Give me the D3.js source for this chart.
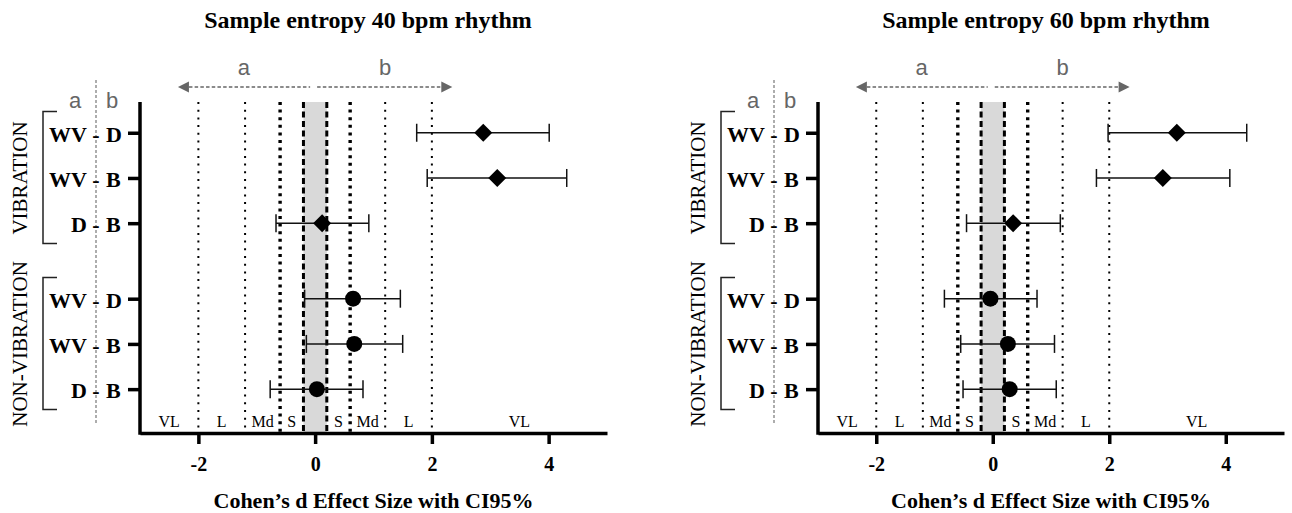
<!DOCTYPE html>
<html><head><meta charset="utf-8">
<script src="https://cdn.jsdelivr.net/npm/d3@7"></script>
<style>body{margin:0;background:#fff}svg{display:block}</style>
</head><body>
<svg id="chart" width="1292" height="513"></svg>
<script>
// ---------- data ----------
const groups = ["VIBRATION", "NON-VIBRATION"];
const groupOf = [0, 0, 0, 1, 1, 1];
const labelA = ["WV", "WV", "D", "WV", "WV", "D"];
const labelB = ["D", "B", "B", "D", "B", "B"];
const titles = ["Sample entropy 40 bpm rhythm", "Sample entropy 60 bpm rhythm"];
const est40 = [2.88, 3.12, 0.12, 0.65, 0.67, 0.03];
const lo40  = [1.74, 1.92, -0.67, -0.18, -0.15, -0.77];
const hi40  = [4.01, 4.31, 0.92, 1.46, 1.50, 0.82];
const est60 = [3.16, 2.92, 0.35, -0.04, 0.26, 0.29];
const lo60  = [1.98, 1.78, -0.45, -0.83, -0.55, -0.51];
const hi60  = [4.36, 4.07, 1.16, 0.76, 1.06, 1.09];
const xTicks = [-2, 0, 2, 4];
const xDomain = [-3, 5];
const thresholds = [-2, -1.2, -0.6, -0.2, 0.2, 0.6, 1.2, 2];
const zoneLabels = ["VL", "L", "Md", "S", null, "S", "Md", "L", "VL"];
const axisTitle = "Cohen\u2019s d Effect Size with CI95%";
const dirLabels = ["a", "b"];

// ---------- layout ----------
const SERIF = "'Liberation Serif','Times New Roman',serif";
const SANS = "'Liberation Sans',Arial,sans-serif";
const GRAY = "#666";
const panels = [
  {left: 140, right: 607, est: est40, lo: lo40, hi: hi40, title: titles[0]},
  {left: 818, right: 1284, est: est60, lo: lo60, hi: hi60, title: titles[1]}
];
const yTop = 102, yBot = 433;
const GAP = 0.67;
const rowPos = i => i + groupOf[i] * GAP;
const y = d3.scaleLinear().domain([-0.68, 6.64]).range([yTop, yBot]);

const svg = d3.select("#chart");

panels.forEach(p => {
  const L = p.left, R = p.right;
  const x = d3.scaleLinear().domain(xDomain).range([L, R]);
  const g = svg.append("g");

  // shaded band
  g.append("rect")
    .attr("x", x(-0.2)).attr("width", x(0.2) - x(-0.2))
    .attr("y", yTop).attr("height", yBot - yTop)
    .attr("fill", "#d9d9d9");

  // reference lines
  thresholds.forEach(t => {
    const a = Math.abs(t);
    let sw, da, cap = "butt";
    if (a === 0.2) { sw = 3; da = "6,3.5"; }
    else if (a === 0.6) { sw = 3.4; da = "3,4.6"; }
    else { sw = 2; da = "2,5.7"; }
    g.append("line")
      .attr("x1", x(t)).attr("x2", x(t))
      .attr("y1", yTop).attr("y2", yBot)
      .attr("stroke", "#000").attr("stroke-width", sw)
      .attr("stroke-dasharray", da).attr("stroke-linecap", cap);
  });

  // zone labels
  const bounds = [xDomain[0], ...thresholds, xDomain[1]];
  zoneLabels.forEach((lab, i) => {
    if (!lab) return;
    g.append("text")
      .attr("x", x((bounds[i] + bounds[i + 1]) / 2)).attr("y", 427)
      .attr("text-anchor", "middle")
      .style("font-family", SERIF).style("font-size", "16px")
      .text(lab);
  });

  // error bars
  const rows = d3.range(labelA.length);
  rows.forEach(i => {
    const yy = y(rowPos(i));
    g.append("line").attr("x1", x(p.lo[i])).attr("x2", x(p.hi[i]))
      .attr("y1", yy).attr("y2", yy).attr("stroke", "#111").attr("stroke-width", 1.5);
    [p.lo[i], p.hi[i]].forEach(v => {
      g.append("line").attr("x1", x(v)).attr("x2", x(v))
        .attr("y1", yy - 9).attr("y2", yy + 9)
        .attr("stroke", "#111").attr("stroke-width", 1.5);
    });
  });

  // markers
  rows.forEach(i => {
    const yy = y(rowPos(i));
    const isDiamond = groupOf[i] === 0;
    const sym = isDiamond ? d3.symbol(d3.symbolSquare, 162) : d3.symbol(d3.symbolCircle, 201);
    g.append("path")
      .attr("d", sym())
      .attr("transform", `translate(${x(p.est[i])},${yy})` + (isDiamond ? " rotate(45)" : ""))
      .attr("fill", "#000");
  });

  // axes
  const yAxis = d3.axisLeft(y).tickValues(rows.map(rowPos)).tickSize(12).tickSizeOuter(0).tickFormat("");
  const ya = g.append("g").attr("transform", `translate(${L},0)`).call(yAxis);
  ya.select(".domain").attr("stroke-width", 3.5).attr("d", `M0,${yBot + 1.75}V${yTop}`);
  ya.selectAll(".tick line").attr("stroke-width", 3.5);

  const xAxis = d3.axisBottom(x).tickValues(xTicks).tickSize(11).tickSizeOuter(0)
    .tickPadding(13).tickFormat(d => (d < 0 ? "-" + Math.abs(d) : String(d)));
  const xa = g.append("g").attr("transform", `translate(0,${yBot})`).call(xAxis);
  xa.select(".domain").attr("stroke-width", 3.5);
  xa.selectAll(".tick line").attr("stroke-width", 3.5);
  xa.selectAll(".tick text").style("font-family", SERIF).style("font-size", "20px")
    .style("font-weight", "bold").attr("fill", "#000");

  // x-axis title
  g.append("text").attr("x", (L + R) / 2).attr("y", 508).attr("text-anchor", "middle")
    .style("font-family", SERIF).style("font-size", "22px").style("font-weight", "bold")
    .text(axisTitle);

  // title
  g.append("text").attr("x", L + 228).attr("y", 28).attr("text-anchor", "middle")
    .style("font-family", SERIF).style("font-size", "24px").style("font-weight", "bold")
    .text(p.title);

  // top direction arrow
  const ay = 87, tipL = x(-2.35), tipR = x(2.35), ah = 11;
  g.append("line").attr("x1", tipL + ah).attr("x2", x(0) - 5).attr("y1", ay).attr("y2", ay)
    .attr("stroke", GRAY).attr("stroke-width", 1.6).attr("stroke-dasharray", "3.5,2.2");
  g.append("line").attr("x1", x(0) + 2).attr("x2", tipR - ah).attr("y1", ay).attr("y2", ay)
    .attr("stroke", GRAY).attr("stroke-width", 1.6).attr("stroke-dasharray", "3.5,2.2");
  g.append("path").attr("d", `M${tipL},${ay}L${tipL + ah},${ay - 5.5}L${tipL + ah},${ay + 5.5}Z`).attr("fill", GRAY);
  g.append("path").attr("d", `M${tipR},${ay}L${tipR - ah},${ay - 5.5}L${tipR - ah},${ay + 5.5}Z`).attr("fill", GRAY);
  g.append("text").attr("x", x(-1.22)).attr("y", 75).attr("text-anchor", "middle")
    .style("font-family", SANS).style("font-size", "22px").attr("fill", GRAY).text(dirLabels[0]);
  g.append("text").attr("x", x(1.2)).attr("y", 75).attr("text-anchor", "middle")
    .style("font-family", SANS).style("font-size", "22px").attr("fill", GRAY).text(dirLabels[1]);

  // left side: separator, a/b, row labels
  g.append("line").attr("x1", L - 44).attr("x2", L - 44).attr("y1", 80).attr("y2", 423)
    .attr("stroke", "#777").attr("stroke-width", 1.2).attr("stroke-dasharray", "3,2");
  g.append("text").attr("x", L - 65).attr("y", 108).attr("text-anchor", "middle")
    .style("font-family", SANS).style("font-size", "22px").attr("fill", GRAY).text(dirLabels[0]);
  g.append("text").attr("x", L - 28).attr("y", 108).attr("text-anchor", "middle")
    .style("font-family", SANS).style("font-size", "22px").attr("fill", GRAY).text(dirLabels[1]);

  rows.forEach(i => {
    const yy = y(rowPos(i)) + 9;
    const t = (xx, anchor, s) => g.append("text").attr("x", xx).attr("y", yy).attr("text-anchor", anchor)
      .style("font-family", SERIF).style("font-size", "22px").style("font-weight", "bold").text(s);
    t(L - 53, "end", labelA[i]);
    t(L - 44, "middle", "-");
    t(L - 34, "start", labelB[i]);
  });

  // group brackets + labels
  groups.forEach((gr, gi) => {
    const idx = rows.filter(i => groupOf[i] === gi);
    const y0 = y(rowPos(idx[0]) - 0.47), y1 = y(rowPos(idx[idx.length - 1]) + 0.45);
    g.append("path").attr("d", `M${L - 83},${y0}H${L - 97}V${y1}H${L - 83}`)
      .attr("fill", "none").attr("stroke", "#222").attr("stroke-width", 1.5);
    const ym = (y(rowPos(idx[0])) + y(rowPos(idx[idx.length - 1]))) / 2;
    g.append("text").attr("transform", `translate(${L - 120},${ym}) rotate(-90)`)
      .attr("text-anchor", "middle").attr("dy", "0.35em")
      .style("font-family", SERIF).style("font-size", "21px").text(gr);
  });
});
</script>
</body></html>
